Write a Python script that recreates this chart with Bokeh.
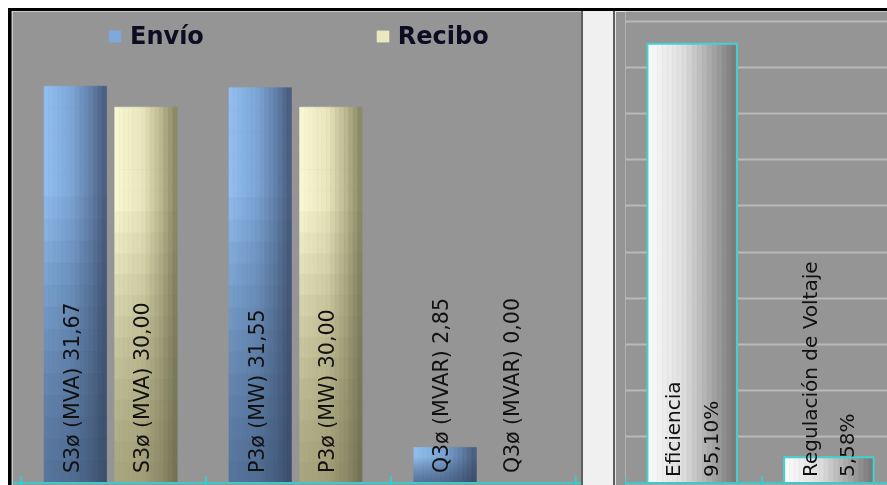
import math
from bokeh.plotting import figure
from bokeh.models import (Range1d, SingleIntervalTicker, Grid, Span,
                          ColumnDataSource, Legend, LegendItem, Div)
from bokeh.layouts import row, column
from bokeh.core.properties import value
from bokeh.embed import file_html
from bokeh.resources import INLINE

# ---------------- data ----------------
categories = ["S3ø", "P3ø", "Q3ø"]
units = ["(MVA)", "(MW)", "(MVAR)"]
series = ["Envío", "Recibo"]
envio = [31.67, 31.55, 2.85]
recibo = [30.00, 30.00, 0.00]

metrics = ["Eficiencia", "Regulación de Voltaje"]
percent = [95.10, 5.58]

# ---------------- style ----------------
FONT = "DejaVu Sans"
GRAY = "#959595"
CYAN = "#3ec8c8"
DARK = "#5e5e5e"
LIGHT = "#f0f0f0"


def fmt(v):
    return f"{v:.2f}".replace(".", ",")


def hexc(c):
    return "#%02x%02x%02x" % tuple(int(round(min(255, max(0, x)))) for x in c)


def stop_color(stops, t):
    for (t0, c0), (t1, c1) in zip(stops[:-1], stops[1:]):
        if t <= t1:
            f = (t - t0) / (t1 - t0) if t1 > t0 else 0
            return tuple(c0[k] + (c1[k] - c0[k]) * f for k in range(3))
    return stops[-1][1]


BLUE_TOP = [(0, (146, 192, 242)), (0.45, (124, 166, 214)), (0.75, (98, 128, 170)), (1, (70, 90, 122))]
BLUE_BOT = [(0, (86, 116, 156)), (0.45, (80, 108, 146)), (0.75, (70, 94, 128)), (1, (58, 76, 104))]
YEL_TOP = [(0, (250, 249, 212)), (0.45, (232, 230, 188)), (0.75, (185, 183, 142)), (1, (132, 132, 98))]
YEL_BOT = [(0, (168, 166, 126)), (0.45, (160, 158, 118)), (0.75, (140, 138, 102)), (1, (112, 111, 82))]
GREY_BAR = [(0, (252, 252, 252)), (0.4, (222, 222, 222)), (0.7, (170, 170, 170)), (1, (118, 118, 118))]


def strips(centers, vals, width, top_stops, bot_stops, nc, nr):
    d = dict(left=[], right=[], bottom=[], top=[], color=[])
    for xc, v in zip(centers, vals):
        if v <= 0:
            continue
        x0 = xc - width / 2
        for c in range(nc):
            t = (c + 0.5) / nc
            ct = stop_color(top_stops, t)
            cb = stop_color(bot_stops, t)
            for r in range(nr):
                yf = (r + 0.5) / nr
                w = min(1.0, yf / 0.75) ** 1.3
                col = tuple(cb[k] + (ct[k] - cb[k]) * w for k in range(3))
                d["left"].append(x0 + c * width / nc)
                d["right"].append(x0 + (c + 1) * width / nc)
                d["bottom"].append(v * r / nr)
                d["top"].append(v * (r + 1) / nr)
                d["color"].append(hexc(col))
    return ColumnDataSource(d)


def add_baseline(p, n_boundaries):
    p.add_layout(Span(location=0, dimension="width", line_color=CYAN, line_width=2))
    p.scatter(x=list(range(n_boundaries)), y=[0] * n_boundaries, marker="dash",
              angle=math.pi / 2, size=14, line_color=CYAN, line_width=2)


NC, NR = 14, 18

# ---------------- left chart ----------------
pL = figure(width=569, height=474, output_backend="svg", toolbar_location=None,
            x_range=Range1d(-0.047, 3.031), y_range=Range1d(-0.19, 37.63),
            x_axis_location=None, y_axis_location=None,
            min_border_left=0, min_border_right=0, min_border_top=0, min_border_bottom=0,
            background_fill_color=GRAY, border_fill_color=GRAY, outline_line_color=None)
pL.grid.visible = False

BW = 0.338
x_env = [i + 0.293 for i in range(len(categories))]
x_rec = [i + 0.675 for i in range(len(categories))]

src_env = strips(x_env, envio, BW, BLUE_TOP, BLUE_BOT, NC, NR)
src_rec = strips(x_rec, recibo, BW, YEL_TOP, YEL_BOT, NC, NR)
r_env = pL.quad(left="left", right="right", bottom="bottom", top="top", source=src_env,
                fill_color="color", line_color="color", line_width=0.6)
r_rec = pL.quad(left="left", right="right", bottom="bottom", top="top", source=src_rec,
                fill_color="color", line_color="color", line_width=0.6)

add_baseline(pL, len(categories) + 1)

lab_x = x_env + x_rec
lab_t = [f"{c} {u} {fmt(v)}" for c, u, v in zip(categories, units, envio)] + \
        [f"{c} {u} {fmt(v)}" for c, u, v in zip(categories, units, recibo)]
pL.text(x=[x - 0.02 for x in lab_x], y=[0] * len(lab_x), text=lab_t, angle=math.pi / 2,
        text_align="left", text_baseline="middle", y_offset=-10,
        text_font=value(FONT), text_font_size="20.5px", text_color="#111111")

legend_idx = 5 * NR + NR - 3
legend = Legend(items=[LegendItem(label=series[0], renderers=[r_env], index=legend_idx),
                       LegendItem(label=series[1], renderers=[r_rec], index=legend_idx)],
                orientation="horizontal", location=(95, 435),
                background_fill_alpha=0, border_line_alpha=0,
                glyph_width=15, glyph_height=14, label_standoff=8, spacing=171,
                padding=0, margin=0,
                label_text_font=FONT, label_text_font_size="24px",
                label_text_font_style="bold", label_text_color="#0c0c22")
pL.add_layout(legend)

# ---------------- right chart ----------------
pR = figure(width=272, height=474, output_backend="svg", toolbar_location=None,
            x_range=Range1d(0, 1.9166), y_range=Range1d(-0.54, 102.06),
            x_axis_location=None, y_axis_location=None,
            min_border_left=10, min_border_right=0, min_border_top=0, min_border_bottom=0,
            background_fill_color=GRAY, border_fill_color=GRAY, outline_line_color=None)
pR.grid.visible = False
pR.add_layout(Grid(dimension=1, ticker=SingleIntervalTicker(interval=10),
                   grid_line_color="#b9b9b9", grid_line_width=2))

BW2 = 0.655
x_m = [i + 0.488 for i in range(len(metrics))]
src_m = strips(x_m, percent, BW2, GREY_BAR, GREY_BAR, 18, 1)
pR.quad(left="left", right="right", bottom="bottom", top="top", source=src_m,
        fill_color="color", line_color="color", line_width=0.6)
pR.quad(left=[x - BW2 / 2 for x in x_m], right=[x + BW2 / 2 for x in x_m],
        bottom=[0] * len(x_m), top=percent, fill_color=None, line_color="#45d0d0", line_width=2)

add_baseline(pR, len(metrics) + 1)

pR.text(x=[x - 0.002 for x in x_m], y=[0] * len(x_m),
        text=[f"{m}\n{fmt(v)}%" for m, v in zip(metrics, percent)], angle=math.pi / 2,
        text_align="left", text_baseline="middle", text_line_height=1.55, y_offset=-6,
        text_font=value(FONT), text_font_size="20px", text_color="#111111")


def bar_div(w, h, color):
    return Div(text="", width=w, height=h, margin=0, styles={"background-color": color})


page = column(
    bar_div(879, 3, "#000000"),
    row(bar_div(3, 474, "#000000"), bar_div(1, 474, DARK), pL, bar_div(2, 474, DARK),
        bar_div(30, 474, LIGHT), bar_div(2, 474, DARK), pR, spacing=0, margin=0),
    spacing=0, margin=0,
    styles={"position": "fixed", "left": "8px", "top": "8px"})

open("out.html", "w").write(file_html(page, INLINE))
